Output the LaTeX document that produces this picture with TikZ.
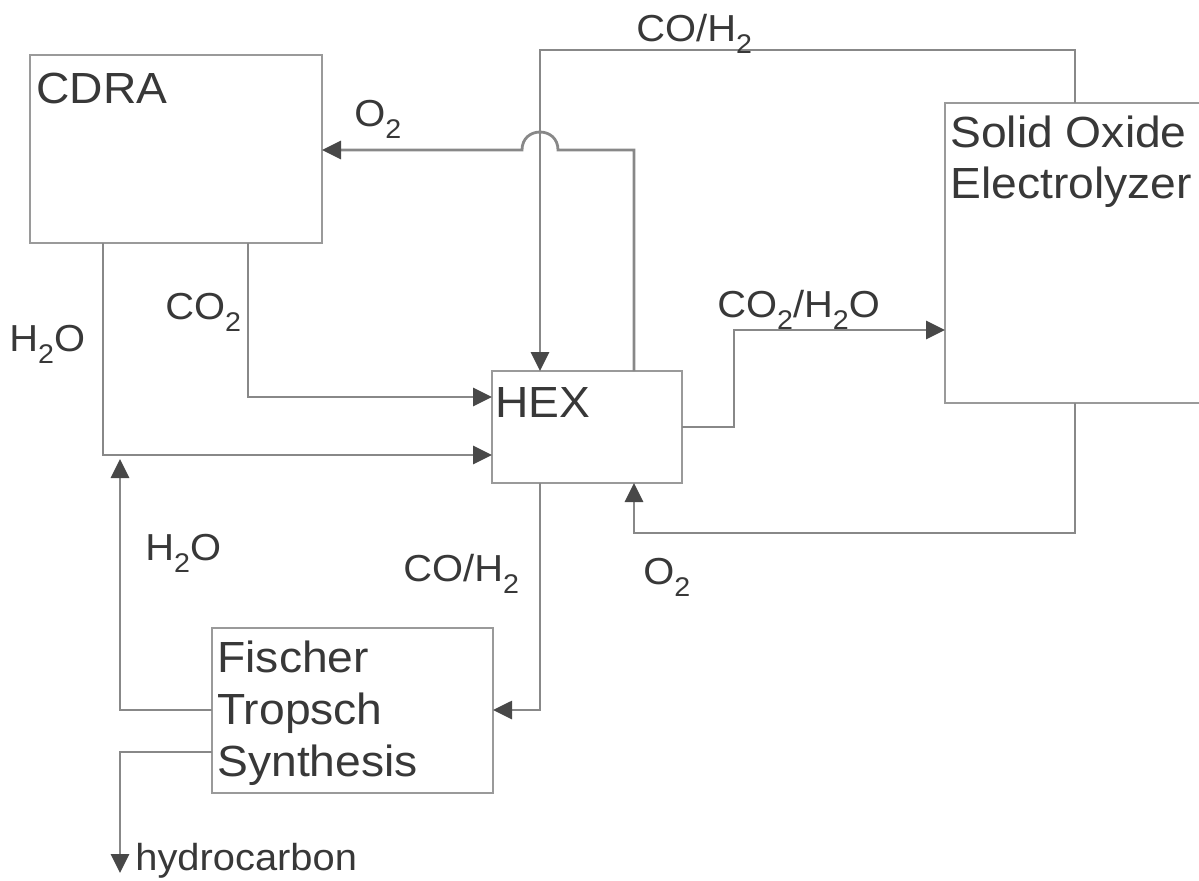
\documentclass[tikz,border=0pt]{standalone}
\usepackage{fontspec}
\setmainfont{Liberation Sans}[FakeStretch=1.06]
\usetikzlibrary{arrows.meta}
\definecolor{lc}{HTML}{888888}
\definecolor{bc}{HTML}{9A9A9A}
\definecolor{tc}{HTML}{383838}
\definecolor{ac}{HTML}{484848}
\newcommand\lowsub[1]{\raisebox{-6pt}{\fontsize{13.5}{13.5}\selectfont #1}}
\begin{document}
\begin{tikzpicture}[x=0.5pt,y=-0.5pt,
  box/.style={draw=bc,line width=1.4pt,rectangle,inner sep=0pt,outer sep=0pt},
  boxtxt/.style={anchor=base west,inner sep=0pt,text=tc,font=\fontsize{21.8}{25}\selectfont},
  lbl/.style={anchor=base west,inner sep=0pt,text=tc,font=\fontsize{18.8}{22}\selectfont},
  conn/.style={draw=lc,line width=1.4pt},
  arr/.style={conn,-{Triangle[length=9.5pt,width=9pt,color=ac]}}]
\useasboundingbox (0,0) rectangle (1199,880);
\clip (0,0) rectangle (1199,880);
\fill[white] (0,0) rectangle (1199,880);
% boxes
\node[box,minimum width=146pt,minimum height=94pt] (cdra) at (176,149) {};
\node[box,minimum width=135pt,minimum height=150pt] (soe) at (1080,253) {};
\node[box,minimum width=95pt,minimum height=56pt] (hex) at (587,427) {};
\node[box,minimum width=140.5pt,minimum height=82.5pt] (fts) at (352.5,710.5) {};
% box texts
\node[boxtxt] (tcdra) at (36,103) {CDRA};
\node[boxtxt] (thex) at (495,417) {HEX};
\node[boxtxt] (tsoe1) at (950,147) {Solid Oxide};
\node[boxtxt] (tsoe2) at (950,198) {Electrolyzer};
\node[boxtxt] (tfts1) at (217,672) {Fischer};
\node[boxtxt] (tfts2) at (217,724) {Tropsch};
\node[boxtxt] (tfts3) at (217,776) {Synthesis};
% routing points
\coordinate (tR) at (1075,50);
\coordinate (tL) at (540,50);
\coordinate (oR) at (634,150);
\coordinate (j1) at (558,150);
\coordinate (c1) at (558,126);
\coordinate (c2) at (522,126);
\coordinate (j2) at (522,150);
\coordinate (co2c) at (248,397);
\coordinate (h2oc) at (103,455);
\coordinate (m1) at (734,427);
\coordinate (m2) at (734,330);
\coordinate (b1) at (1075,533);
\coordinate (b2) at (634,533);
\coordinate (f1) at (540,710);
\coordinate (w1) at (120,710);
\coordinate (w2) at (120,459);
\coordinate (w3) at (120,752);
\coordinate (w4) at (120,873);
% connectors
\draw[arr] (soe.north -| tR) -- (tR) -- (tL) -- (hex.north -| tL);
\draw[arr] (hex.north -| oR) -- (oR) -- (j1) .. controls (c1) and (c2) .. (j2) -- (cdra.east |- oR);
\draw[arr] (cdra.south -| co2c) -- (co2c) -- (hex.west |- co2c);
\draw[arr] (cdra.south -| h2oc) -- (h2oc) -- (hex.west |- h2oc);
\draw[arr] (hex.east |- m1) -- (m1) -- (m2) -- (soe.west |- m2);
\draw[arr] (soe.south -| b1) -- (b1) -- (b2) -- (hex.south -| b2);
\draw[arr] (hex.south -| f1) -- (f1) -- (fts.east |- f1);
\draw[arr] (fts.west |- w1) -- (w1) -- (w2);
\draw[arr] (fts.west |- w3) -- (w3) -- (w4);
% labels
\node[lbl] (l1) at (636,41) {CO/H\lowsub{2}};
\node[lbl] (l2) at (354,126) {O\lowsub{2}};
\node[lbl] (l3) at (9,351) {H\lowsub{2}O};
\node[lbl] (l4) at (165,319) {CO\lowsub{2}};
\node[lbl] (l5) at (717,317) {CO\lowsub{2}/H\lowsub{2}O};
\node[lbl] (l6) at (145,560) {H\lowsub{2}O};
\node[lbl] (l7) at (403,581) {CO/H\lowsub{2}};
\node[lbl] (l8) at (643,584) {O\lowsub{2}};
\node[lbl] (l9) at (135,870) {hydrocarbon};
\end{tikzpicture}
\end{document}
